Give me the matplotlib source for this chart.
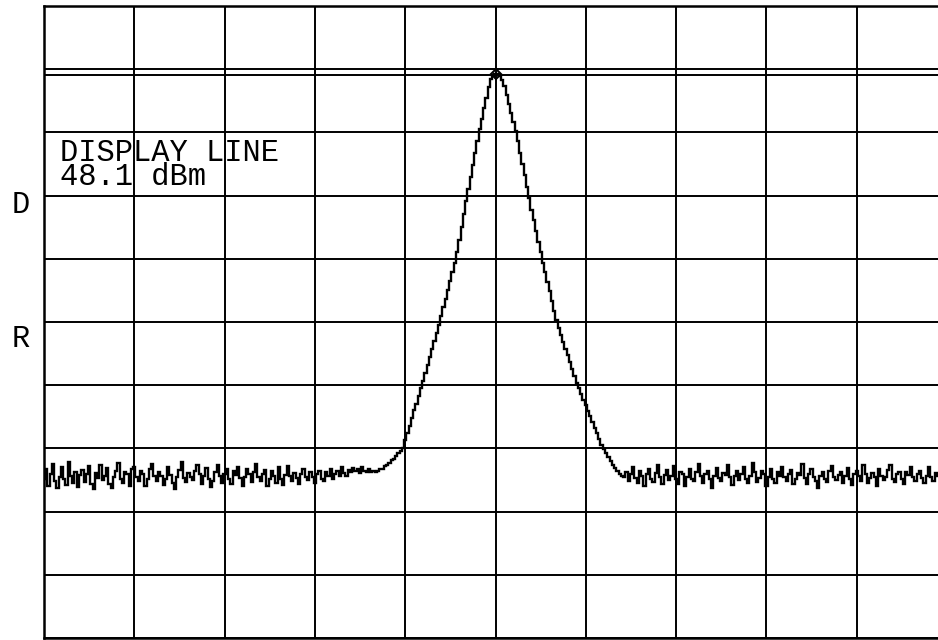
import numpy as np
import matplotlib
matplotlib.use("Agg")
import matplotlib.pyplot as plt

# ---------------- data ----------------
ref_level_dbm = 59.0          # top graticule line
db_per_div = 10.0
display_line_dbm = 48.1
n_points = 401

noise_left = [
    -15.8, -14.2, -16.9, -15.1, -13.4, -16.2, -17.3, -15.6, -14.0, -15.9,
    -16.8, -13.1, -15.4, -16.5, -14.7, -17.1, -15.2, -14.4, -16.3, -15.0,
    -13.8, -16.7, -17.5, -14.9, -15.7, -13.6, -16.0, -15.3, -14.1, -16.6,
    -17.2, -15.5, -14.6, -13.3, -15.9, -16.4, -14.8, -15.1, -16.9, -14.3,
    -13.9, -15.6, -16.2, -14.5, -15.0, -17.0, -15.8, -14.2, -13.5, -15.4,
    -16.1, -14.7, -15.3, -16.8, -15.9, -14.0, -15.2, -16.5, -17.4, -15.6,
    -14.4, -13.2, -15.7, -16.3, -14.9, -15.5, -16.0, -14.6, -13.7, -15.1,
    -16.7, -15.4, -14.1, -15.8, -17.1, -16.2, -14.8, -13.6, -15.3, -16.4,
    -15.0, -14.3, -15.9, -16.6, -14.5, -15.2, -13.9, -15.7, -16.9, -15.5,
    -14.2, -15.1, -16.3, -14.7, -13.4, -15.6, -16.1, -15.0, -14.4, -17.0,
    -15.8, -14.6, -15.3, -16.5, -14.0, -15.9, -16.8, -15.2, -13.8, -15.4,
    -16.2, -14.9, -15.7, -16.6, -15.1, -14.3, -15.5, -16.0, -14.8, -15.6,
    -16.4, -15.0, -14.5, -15.8, -16.1, -14.7, -15.3, -14.2, -15.9, -15.1,
    -14.6, -15.4, -14.0, -14.9, -15.3, -14.4, -14.8, -14.1, -14.6, -14.2,
    -14.9, -14.0, -14.5, -14.7, -14.3, -14.8, -14.5,
]

peak_values = [
    -14.8, -14.6, -14.3, -14.2, -13.8, -13.6, -13.3, -12.9, -12.6, -12.2,
    -11.8, -11.4, -10.9, -9.7, -8.6, -7.4, -6.2, -5.0, -3.9, -2.7,
    -1.5, -0.3, 0.9, 2.2, 3.5, 4.7, 6.0, 7.2, 8.5, 9.9,
    11.3, 12.7, 14.1, 15.5, 16.9, 18.3, 20.0, 22.0, 24.0, 26.1,
    28.1, 30.1, 31.9, 33.8, 35.7, 37.7, 39.6, 41.1, 42.8, 44.4,
    46.2, 47.5, 48.0, 48.3, 48.2, 47.9, 47.3, 46.3, 44.9, 43.5,
    42.0, 40.6, 39.2, 37.6, 35.8, 34.0, 32.2, 30.4, 28.6, 26.8,
    25.1, 23.4, 21.7, 20.0, 18.4, 16.9, 15.4, 13.9, 12.3, 10.8,
    9.3, 8.1, 7.0, 5.9, 4.8, 3.7, 2.6, 1.6, 0.5, -0.6,
    -1.5, -2.4, -3.3, -4.2, -5.1, -5.9, -6.8, -7.7, -8.6, -9.5,
    -10.4, -11.1, -11.8, -12.4, -13.0, -13.6, -14.1, -14.6, -15.0, -15.3,
]

noise_right = [
    -15.6, -14.8, -16.2, -15.0, -13.9, -15.7, -16.5, -14.6, -15.3, -16.9,
    -15.1, -14.2, -15.8, -16.3, -14.9, -13.6, -15.5, -16.7, -15.2, -14.4,
    -16.0, -15.4, -13.8, -15.9, -16.6, -14.7, -15.1, -17.0, -15.6, -14.3,
    -15.8, -16.2, -14.8, -13.5, -15.3, -16.4, -15.0, -14.6, -15.9, -17.2,
    -15.4, -14.1, -15.7, -16.1, -14.9, -15.2, -13.7, -15.6, -16.8, -15.3,
    -14.5, -16.0, -15.1, -14.0, -15.8, -16.5, -15.4, -13.3, -14.8, -16.3,
    -15.7, -14.6, -15.0, -16.9, -15.5, -14.2, -15.9, -16.4, -14.7, -15.3,
    -13.9, -15.6, -16.2, -15.1, -14.4, -16.7, -15.8, -14.9, -15.2, -13.4,
    -15.7, -16.6, -15.0, -14.3, -15.5, -16.1, -17.3, -15.4, -14.7, -15.9,
    -16.3, -14.5, -13.8, -15.6, -16.0, -15.2, -14.8, -16.5, -15.3, -14.1,
    -15.8, -16.8, -15.0, -14.6, -15.4, -16.2, -13.7, -15.1, -16.4, -15.7,
    -14.9, -15.5, -16.9, -14.2, -15.3, -16.0, -15.6, -14.4, -13.6, -15.8,
    -16.3, -15.1, -14.8, -15.9, -16.6, -14.7, -15.2, -13.9, -15.5, -16.1,
    -15.0, -14.5, -15.7, -16.4, -15.3, -14.0, -15.6, -16.2, -14.9, -15.4,
    -16.0, -14.6, -15.1, -15.8,
]

trace_dbm = np.array(noise_left + peak_values + noise_right)
trace_index = np.arange(len(trace_dbm))
peak_idx = int(np.argmax(trace_dbm))

label_title = "DISPLAY LINE"
label_value = f"{display_line_dbm} dBm"

# ---------------- figure ----------------
W, H = 938, 640
fig = plt.figure(figsize=(W / 100, H / 100), dpi=100)
fig.patch.set_facecolor("white")

ax_left, ax_right, ax_top, ax_bottom = 44, 947, 6, 638
ax = fig.add_axes([ax_left / W, 1 - ax_bottom / H,
                   (ax_right - ax_left) / W, (ax_bottom - ax_top) / H])

ymin = ref_level_dbm - 10 * db_per_div
ax.set_xlim(0, n_points - 1)
ax.set_ylim(ymin, ref_level_dbm)
ax.set_xticks(np.linspace(0, n_points - 1, 11))
ax.set_yticks(np.arange(ymin, ref_level_dbm + 0.01, db_per_div))
ax.tick_params(length=0, labelbottom=False, labelleft=False)
ax.grid(True, color="black", linewidth=1.4)
for s in ax.spines.values():
    s.set_linewidth(1.8)
    s.set_color("black")

# display line
ax.axhline(display_line_dbm, color="black", linewidth=1.4)

# trace
ax.plot(trace_index, trace_dbm, drawstyle="steps-mid", color="black",
        linewidth=1.7, solid_joinstyle="miter")

# peak marker
ax.plot([trace_index[peak_idx]], [trace_dbm[peak_idx]], marker="D",
        markersize=5, markerfacecolor="none", markeredgecolor="black",
        markeredgewidth=1.5)

font = ["Liberation Mono", "DejaVu Sans Mono"]
fig.text(60 / W, 1 - 185 / H, label_title + "\n" + label_value,
         family=font, fontsize=22, linespacing=0.74,
         ha="left", va="baseline", multialignment="left", color="black")
fig.text(12 / W, 1 - 213 / H, "D", family=font, fontsize=22,
         ha="left", va="baseline", color="black")
fig.text(12 / W, 1 - 347 / H, "R", family=font, fontsize=22,
         ha="left", va="baseline", color="black")

fig.savefig("out.png", dpi=100, facecolor="white")
